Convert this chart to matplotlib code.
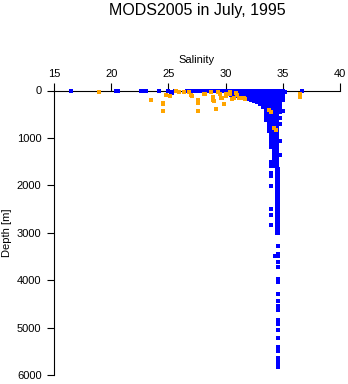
import matplotlib
matplotlib.use("Agg")
import matplotlib.pyplot as plt

title = "MODS2005 in July, 1995"
x_label = "Salinity"
y_label = "Depth [m]"
x_ticks = [15, 20, 25, 30, 35, 40]
y_ticks = [0, 1000, 2000, 3000, 4000, 5000, 6000]

# ---- blue: scattered near-surface points
blue_surf_sal = [16.5, 20.4, 20.6, 22.6, 22.8, 23.0, 24.2, 25.0, 25.2, 25.3, 25.6,
                 26.6, 26.7, 27.1, 27.3, 27.5, 27.7, 27.9, 28.1, 28.3, 35.2, 36.7]
blue_surf_depth = [15, 15, 15, 15, 15, 15, 5, 15, 30, 50, 5,
                   10, 10, 20, 20, 20, 20, 20, 20, 20, 35, 20]

# ---- blue: dense upper water column (one list of salinities per depth level)
blob_depth = [0, 20, 45, 70, 95, 120, 145, 170, 195, 220, 250, 280, 310, 340, 370,
              400, 430, 460, 500, 540, 580, 620, 660, 700, 740, 780, 820, 860, 900,
              940, 980, 1020, 1060, 1100, 1150, 1200, 1250, 1300, 1350, 1400, 1450,
              1500, 1550, 1600]
blob_sal = [
    [28.5, 28.75, 29.0, 29.25, 29.5, 29.75, 30.0, 30.25, 30.5, 30.75, 31.0, 31.25, 31.5, 31.75, 32.0, 32.25, 32.5, 32.75, 33.0, 33.25, 33.5, 33.75, 34.0, 34.25, 34.5, 34.75, 35.0],
    [28.75, 29.0, 29.25, 29.5, 29.75, 30.0, 30.25, 30.5, 30.75, 31.0, 31.25, 31.5, 31.75, 32.0, 32.25, 32.5, 32.75, 33.0, 33.25, 33.5, 33.75, 34.0, 34.25, 34.5, 34.75, 35.0],
    [30.0, 30.25, 30.5, 30.75, 31.0, 31.25, 31.5, 31.75, 32.0, 32.25, 32.5, 32.75, 33.0, 33.25, 33.5, 33.75, 34.0, 34.25, 34.5, 34.75, 35.0],
    [30.25, 30.5, 30.75, 31.0, 31.25, 31.5, 31.75, 32.0, 32.25, 32.5, 32.75, 33.0, 33.25, 33.5, 33.75, 34.0, 34.25, 34.5, 34.75, 35.0],
    [30.5, 30.75, 31.0, 31.25, 31.5, 31.75, 32.0, 32.25, 32.5, 32.75, 33.0, 33.25, 33.5, 33.75, 34.0, 34.25, 34.5, 34.75, 35.0],
    [30.75, 31.0, 31.25, 31.5, 31.75, 32.0, 32.25, 32.5, 32.75, 33.0, 33.25, 33.5, 33.75, 34.0, 34.25, 34.5, 34.75, 35.0],
    [31.25, 31.5, 31.75, 32.0, 32.25, 32.5, 32.75, 33.0, 33.25, 33.5, 33.75, 34.0, 34.25, 34.5, 34.75, 35.0],
    [31.75, 32.0, 32.25, 32.5, 32.75, 33.0, 33.25, 33.5, 33.75, 34.0, 34.25, 34.5, 34.75, 35.0],
    [32.25, 32.5, 32.75, 33.0, 33.25, 33.5, 33.75, 34.0, 34.25, 34.5, 34.75, 35.0],
    [32.5, 32.75, 33.0, 33.25, 33.5, 33.75, 34.0, 34.25, 34.5, 34.75],
    [32.75, 33.0, 33.25, 33.5, 33.75, 34.0, 34.25, 34.5, 34.75],
    [33.0, 33.25, 33.5, 33.75, 34.0, 34.25, 34.5, 34.75],
    [33.25, 33.5, 33.75, 34.0, 34.25, 34.5, 34.75],
    [33.25, 33.5, 33.75, 34.0, 34.25, 34.5, 34.75],
    [33.5, 33.75, 34.0, 34.25, 34.5, 34.75],
    [33.5, 33.75, 34.0, 34.25, 34.5],
    [33.5, 33.75, 34.0, 34.25, 34.5, 34.75, 35.0],
    [33.5, 33.75, 34.0, 34.25, 34.5, 34.75],
    [33.5, 33.75, 34.0, 34.25, 34.5],
    [33.5, 33.75, 34.0, 34.25, 34.5],
    [33.5, 33.75, 34.0, 34.25, 34.5, 34.75],
    [33.5, 33.75, 34.0, 34.25, 34.5],
    [33.75, 34.0, 34.25, 34.5],
    [33.75, 34.0, 34.25, 34.5, 34.75],
    [33.75, 34.0, 34.25, 34.5],
    [33.75, 34.0, 34.25, 34.5],
    [34.0, 34.25, 34.5],
    [33.75, 34.0, 34.25, 34.5],
    [34.0, 34.25, 34.5],
    [34.0, 34.25, 34.5],
    [34.0, 34.25, 34.5],
    [34.0, 34.25, 34.5],
    [34.0, 34.25, 34.5, 34.75],
    [34.0, 34.25, 34.5],
    [34.25, 34.5],
    [34.0, 34.25, 34.5],
    [34.25, 34.5],
    [34.25, 34.5],
    [34.25, 34.5, 34.75],
    [34.25, 34.5],
    [34.25, 34.5],
    [34.25, 34.5],
    [34.25, 34.5],
    [34.25, 34.5],
]

# ---- blue: narrow deep column (two salinity values at each depth level)
col_sal = [34.5, 34.6]
col_depth = [1650, 1690, 1730, 1770, 1810, 1850, 1890, 1930, 1970, 2010, 2050, 2090,
             2130, 2170, 2210, 2250, 2290, 2330, 2370, 2410, 2450, 2490, 2530, 2570,
             2610, 2650, 2690, 2730, 2770, 2810, 2850, 2890, 2930, 2970, 3010]

# ---- blue: isolated deep points
deep_sal = [34.6, 34.6, 34.35, 34.6, 34.6, 34.6, 34.6, 34.6, 34.6, 34.6, 34.6,
            34.6, 34.6, 34.6, 34.6, 34.6, 34.6, 34.6, 34.6, 34.6, 34.6, 34.6,
            34.0, 34.0, 34.0, 34.0, 34.0, 34.0, 34.0, 34.0]
deep_depth = [3284, 3452, 3494, 3494, 3614, 3719, 3965, 4035, 4280, 4435, 4533,
              4631, 4828, 4926, 5052, 5207, 5403, 5488, 5627, 5684, 5754, 5824,
              1509, 1600, 1740, 1804, 2007, 2491, 2617, 2827]

# ---- orange points
orange_sal = [18.95, 23.5, 24.55, 24.55, 24.55, 24.75, 25.15, 25.7, 25.9, 26.4,
              26.8, 27.0, 27.1, 27.6, 27.6, 27.6, 28.1, 28.2, 28.7, 28.9,
              28.9, 29.0, 29.2, 29.2, 29.3, 29.5, 29.6, 29.7, 29.9, 30.0,
              30.0, 30.4, 30.4, 30.6, 30.7, 30.9, 31.0, 31.2, 31.4, 31.6,
              31.7, 33.8, 34.0, 34.2, 34.4, 36.5, 36.5]
orange_depth = [25, 200, 257, 290, 425, 95, 110, 20, 36, 35,
                30, 105, 115, 200, 270, 425, 65, 80, 40, 140,
                190, 215, 380, 397, 40, 70, 150, 160, 285, 70,
                125, 70, 40, 180, 160, 45, 105, 160, 160, 150,
                170, 420, 450, 800, 830, 80, 140]

BLUE = "#0000ff"
ORANGE = "#ffa500"
MS = 2.3

plt.rcParams['font.family'] = ['Liberation Sans', 'DejaVu Sans']
fig = plt.figure(figsize=(3.48, 3.84), dpi=100)
ax = fig.add_axes([54 / 348, 1 - 375.3 / 384, 286 / 348, 284.8 / 384])

kw = dict(marker='s', linestyle='none', markersize=MS, markeredgewidth=0,
          clip_on=False, zorder=5)
ax.plot(blue_surf_sal, blue_surf_depth, color=BLUE, **kw)
for d, row in zip(blob_depth, blob_sal):
    ax.plot(row, [d] * len(row), color=BLUE, **kw)
for s in col_sal:
    ax.plot([s] * len(col_depth), col_depth, color=BLUE, **kw)
ax.plot(deep_sal, deep_depth, color=BLUE, **kw)
kw['zorder'] = 6
ax.plot(orange_sal, orange_depth, color=ORANGE, **kw)

ax.set_xlim(15, 40)
ax.set_ylim(6000, 0)
ax.xaxis.tick_top()
ax.set_xticks(x_ticks)
ax.set_yticks(y_ticks)
ax.tick_params(axis='x', direction='out', length=5.5, width=0.8, pad=2.5,
               labelsize=8, colors='black')
ax.tick_params(axis='y', direction='out', length=5, width=0.8, pad=4,
               labelsize=8, colors='black')
for side in ['right', 'bottom']:
    ax.spines[side].set_visible(False)
for side in ['left', 'top']:
    ax.spines[side].set_linewidth(0.8)
    ax.spines[side].set_color('black')

fig.text(197 / 348, 1 - 11 / 384, title, ha='center', va='center', fontsize=11.5)
fig.text(197 / 348, 1 - 60 / 384, x_label, ha='center', va='center', fontsize=8)
fig.text(7 / 348, 1 - 232.5 / 384, y_label, ha='center', va='center',
         rotation=90, fontsize=8)

fig.savefig("out.png", dpi=100)
